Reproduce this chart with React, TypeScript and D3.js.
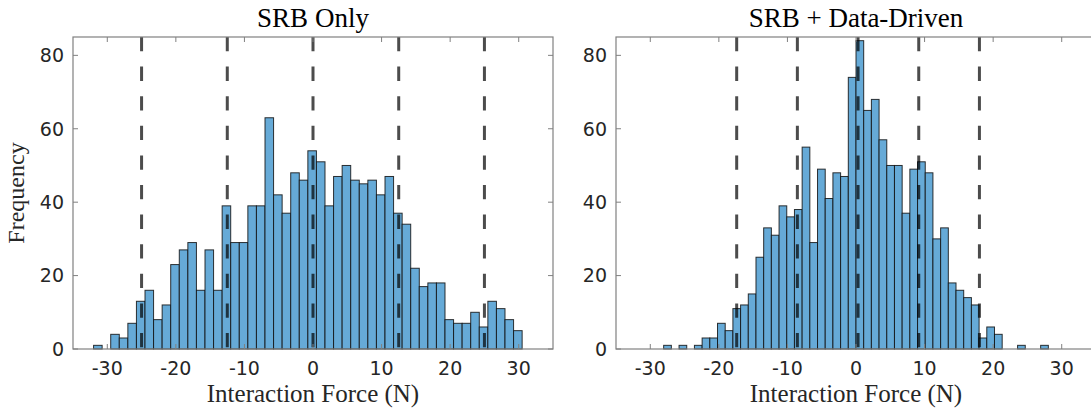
import React from "react";
import * as d3 from "d3";

// ---- data ----
const xTicks = [-30, -20, -10, 0, 10, 20, 30];
const yTicks = [0, 20, 40, 60, 80];

const srbTitle = "SRB Only";
const srbBinStart = -32;
const srbBinWidth = 1.25;
const srbCounts = [
  1, 0, 4, 3, 7, 13, 16, 8, 12, 23, 27, 29, 16, 27, 16, 39, 29, 29, 39, 39, 63,
  42, 37, 48, 46, 54, 51, 39, 47, 50, 46, 45, 46, 42, 47, 37, 34, 22, 17, 18, 18,
  8, 7, 7, 10, 6, 13, 11, 8, 5,
];
const srbLines = [-25, -12.5, 0, 12.5, 25];

const ddTitle = "SRB + Data-Driven";
const ddBinStart = -28.05;
const ddBinWidth = 1.122;
const ddCounts = [
  1, 0, 1, 0, 1, 3, 3, 7, 5, 11, 12, 15, 25, 33, 31, 39, 36, 38, 55, 29, 49, 41,
  48, 47, 74, 84, 65, 68, 57, 50, 50, 37, 49, 51, 48, 30, 33, 18, 16, 14, 12, 3,
  6, 4, 0, 0, 1, 0, 0, 1,
];
const ddLines = [-17.4, -8.55, 0.3, 9.15, 18.0];

const xLabel = "Interaction Force (N)";
const yLabel = "Frequency";

// ---- layout ----
const W = 1091;
const H = 409;
const TOP = 37;
const BOTTOM = 349;
const PW = 480;
const serif = "'Liberation Serif', 'Times New Roman', serif";
const sans = "'DejaVu Sans', sans-serif";

function Panel({ left, title, start, width, counts, lines, showYLabel }) {
  const x = d3.scaleLinear().domain([-35, 35]).range([left, left + PW]);
  const y = d3.scaleLinear().domain([0, 85]).range([BOTTOM, TOP]);
  const bins = counts.map((c, i) => ({
    x0: start + i * width,
    x1: start + (i + 1) * width,
    c,
  }));
  const tl = 5;
  const axisColor = "#808080";
  return (
    <g>
      {bins
        .filter((b) => b.c > 0)
        .map((b, i) => (
          <rect
            key={i}
            x={x(b.x0)}
            y={y(b.c)}
            width={x(b.x1) - x(b.x0)}
            height={y(0) - y(b.c)}
            fill="#66aad7"
            stroke="#111"
            strokeOpacity={0.85}
            strokeWidth={1}
          />
        ))}
      {lines.map((v, i) => (
        <line
          key={i}
          x1={x(v)}
          x2={x(v)}
          y1={y(85)}
          y2={y(0)}
          stroke="#000"
          strokeOpacity={0.7}
          strokeWidth={3}
          strokeDasharray="14.3 15.3"
        />
      ))}
      <rect
        x={left}
        y={TOP}
        width={PW}
        height={BOTTOM - TOP}
        fill="none"
        stroke={axisColor}
        strokeWidth={1.2}
      />
      {xTicks.map((t) => (
        <g key={"x" + t}>
          <line x1={x(t)} x2={x(t)} y1={BOTTOM} y2={BOTTOM - tl} stroke={axisColor} />
          <line x1={x(t)} x2={x(t)} y1={TOP} y2={TOP + tl} stroke={axisColor} />
          <text
            x={x(t)}
            y={375}
            textAnchor="middle"
            fontFamily={sans}
            fontSize={19}
            fill="#262626"
          >
            {t}
          </text>
        </g>
      ))}
      {yTicks.map((t) => (
        <g key={"y" + t}>
          <line x1={left} x2={left + tl} y1={y(t)} y2={y(t)} stroke={axisColor} />
          <line x1={left + PW} x2={left + PW - tl} y1={y(t)} y2={y(t)} stroke={axisColor} />
          <text
            x={left - 9}
            y={y(t)}
            dy="0.36em"
            textAnchor="end"
            fontFamily={sans}
            fontSize={19}
            fill="#262626"
          >
            {t}
          </text>
        </g>
      ))}
      <text
        x={left + PW / 2}
        y={27}
        textAnchor="middle"
        fontFamily={serif}
        fontSize={27}
        fill="#000"
      >
        {title}
      </text>
      <text
        x={left + PW / 2}
        y={402}
        textAnchor="middle"
        fontFamily={serif}
        fontSize={25}
        fill="#262626"
      >
        {xLabel}
      </text>
      {showYLabel && (
        <text
          transform={`translate(24, ${(TOP + BOTTOM) / 2}) rotate(-90)`}
          textAnchor="middle"
          fontFamily={serif}
          fontSize={24}
          fill="#262626"
        >
          {yLabel}
        </text>
      )}
    </g>
  );
}

export default function App() {
  return (
    <svg
      width={W}
      height={H}
      style={{ position: "absolute", left: 0, top: 0, display: "block", background: "#fff" }}
    >
      <rect width={W} height={H} fill="#fff" />
      <Panel
        left={73}
        title={srbTitle}
        start={srbBinStart}
        width={srbBinWidth}
        counts={srbCounts}
        lines={srbLines}
        showYLabel={true}
      />
      <Panel
        left={616}
        title={ddTitle}
        start={ddBinStart}
        width={ddBinWidth}
        counts={ddCounts}
        lines={ddLines}
        showYLabel={false}
      />
    </svg>
  );
}
